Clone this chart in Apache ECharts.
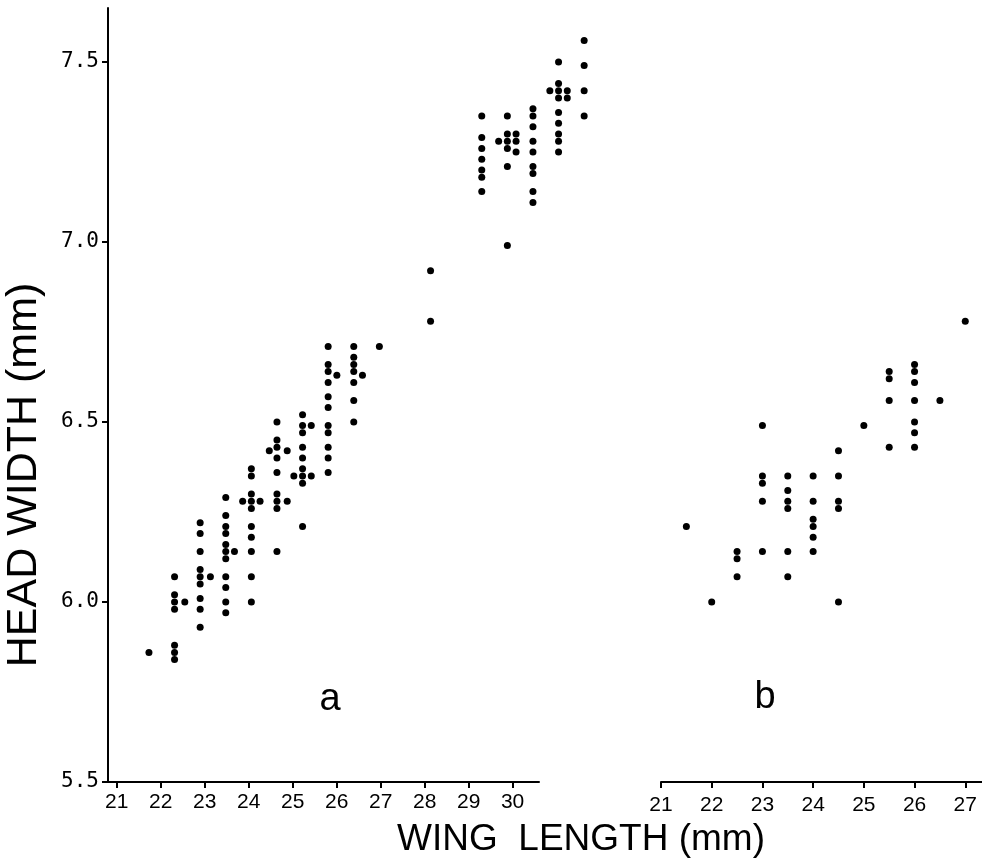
<!DOCTYPE html>
<html><head><meta charset="utf-8">
<script src="https://cdn.jsdelivr.net/npm/echarts@6/dist/echarts.min.js"></script>
<style>html,body{margin:0;padding:0;background:#fff}#c{width:982px;height:861px}</style>
</head><body><div id="c"></div>
<script>
// Tick labels
const yTicks = [5.5, 6.0, 6.5, 7.0, 7.5];
const xTicksA = [21, 22, 23, 24, 25, 26, 27, 28, 29, 30];
const xTicksB = [21, 22, 23, 24, 25, 26, 27];

// Panel a: wing length (mm) / head width (mm)
const aWing = [21.5,
  22,22,22,22,22,22,22,22.2,
  22.5,22.5,22.5,22.5,22.5,22.5,22.5,22.5,22.5,22.7,
  23,23,23,23,23,23,23,23,23,23,23,23.17,
  23.5,23.5,23.5,23.5,23.5,23.5,23.5,23.5,23.5,23.5,23.33,23.67,
  24,24,24,24,24,24,24,24,24,23.85,24.2,24.2,
  24.5,24.5,24.5,24.5,24.5,24.5,24.5,24.5,24.5,24.67,24.33,24.67,
  25,25,25,25,25,25,25,25,25,25,25,25.17,
  25.5,25.5,25.5,25.5,25.5,25.5,25.5,25.67,
  26,
  27,27,
  28,28,28,28,28,28,28,
  28.5,28.5,28.5,28.5,28.5,28.5,28.33,28.67,28.67,28.67,
  29,29,29,29,29,29,29,29,29,
  29.5,29.5,29.5,29.5,29.5,29.5,29.5,29.5,29.5,29.33,29.67,29.67,
  30,30,30,30];
const aHead = [5.86,
  6.07,6.02,6.00,5.98,5.88,5.86,5.84,6.00,
  6.22,6.19,6.14,6.09,6.07,6.05,6.01,5.98,5.93,6.07,
  6.29,6.24,6.21,6.19,6.16,6.14,6.12,6.07,6.04,6.00,5.97,6.14,
  6.37,6.35,6.30,6.28,6.26,6.21,6.18,6.14,6.07,6.00,6.28,6.28,
  6.50,6.45,6.43,6.40,6.36,6.30,6.28,6.26,6.14,6.42,6.42,6.28,
  6.52,6.49,6.47,6.43,6.40,6.37,6.35,6.33,6.21,6.49,6.35,6.35,
  6.71,6.66,6.64,6.61,6.57,6.54,6.49,6.47,6.43,6.40,6.36,6.63,
  6.71,6.68,6.66,6.64,6.61,6.56,6.50,6.63,
  6.71,
  6.92,6.78,
  7.35,7.29,7.26,7.23,7.20,7.18,7.14,
  7.35,7.30,7.28,7.26,7.21,6.99,7.28,7.30,7.28,7.25,
  7.37,7.35,7.32,7.28,7.25,7.21,7.19,7.14,7.11,
  7.50,7.44,7.42,7.40,7.36,7.33,7.30,7.28,7.25,7.42,7.42,7.40,
  7.56,7.49,7.42,7.35];

// Panel b
const bWing = [21.5, 22, 22.5,22.5,22.5, 23,23,23,23,23, 23.5,23.5,23.5,23.5,23.5,23.5,
  24,24,24,24,24,24, 24.5,24.5,24.5,24.5,24.5, 25, 25.5,25.5,25.5,25.5,
  26,26,26,26,26,26,26, 26.5, 27];
const bHead = [6.21, 6.00, 6.14,6.12,6.07, 6.49,6.35,6.33,6.28,6.14, 6.35,6.31,6.28,6.26,6.14,6.07,
  6.35,6.28,6.23,6.21,6.18,6.14, 6.42,6.35,6.28,6.26,6.00, 6.49, 6.64,6.62,6.56,6.43,
  6.66,6.64,6.61,6.56,6.50,6.47,6.43, 6.56, 6.78];

const pairs = (xs, ys) => xs.map((x, i) => [x, ys[i]]);

const black = '#000';
const tickFont = "'Liberation Sans', Arial, sans-serif";
const yRange = {min: 5.5, max: 7.65};

const chart = echarts.init(document.getElementById('c'), null, {renderer: 'canvas'});
chart.setOption({
  animation: false,
  backgroundColor: '#fff',
  grid: [
    {left: 108, top: 8, width: 431, height: 774},
    {left: 108, top: 8, width: 512, height: 774},
    {left: 661, top: 8, width: 321, height: 774}
  ],
  xAxis: [
    {gridIndex: 0, type: 'value', min: 20.8, max: 30.6,
     axisLine: {show: true, onZero: false, lineStyle: {color: black, width: 2}},
     axisTick: {show: true, customValues: xTicksA, length: 6, lineStyle: {color: black, width: 2}},
     axisLabel: {customValues: xTicksA, color: black, fontSize: 21, fontFamily: tickFont, margin: 10},
     splitLine: {show: false}},
    {gridIndex: 1, type: 'value', min: 20.7, max: 30.7, show: false},
    {gridIndex: 2, type: 'value', min: 21, max: 27.33,
     axisLine: {show: true, onZero: false, lineStyle: {color: black, width: 2}},
     axisTick: {show: true, customValues: xTicksB, length: 6, lineStyle: {color: black, width: 2}},
     axisLabel: {customValues: xTicksB, color: black, fontSize: 21, fontFamily: tickFont, margin: 13},
     splitLine: {show: false}}
  ],
  yAxis: [
    Object.assign({gridIndex: 0, type: 'value',
     axisLine: {show: true, onZero: false, lineStyle: {color: black, width: 2}},
     axisTick: {show: true, customValues: yTicks, length: 6, lineStyle: {color: black, width: 2}},
     axisLabel: {customValues: yTicks, color: black, fontSize: 21,
                 fontFamily: "'DejaVu Sans Mono', monospace", margin: 9,
                 formatter: v => v.toFixed(1)},
     splitLine: {show: false}}, yRange),
    Object.assign({gridIndex: 1, type: 'value', show: false}, yRange),
    Object.assign({gridIndex: 2, type: 'value', show: false}, yRange)
  ],
  series: [
    {type: 'scatter', xAxisIndex: 1, yAxisIndex: 1, data: pairs(aWing, aHead),
     symbol: 'circle', symbolSize: 7, itemStyle: {color: black, opacity: 1}},
    {type: 'scatter', xAxisIndex: 2, yAxisIndex: 2, data: pairs(bWing, bHead),
     symbol: 'circle', symbolSize: 7, itemStyle: {color: black, opacity: 1}}
  ],
  graphic: [
    {type: 'text', x: 330, y: 700, style: {text: 'a', font: "38px 'Liberation Sans', Arial, sans-serif",
      fill: '#000', align: 'center', verticalAlign: 'middle', textAlign: 'center', textVerticalAlign: 'middle'}},
    {type: 'text', x: 765, y: 698, style: {text: 'b', font: "38px 'Liberation Sans', Arial, sans-serif",
      fill: '#000', align: 'center', verticalAlign: 'middle', textAlign: 'center', textVerticalAlign: 'middle'}},
    {type: 'text', x: 581, y: 840, style: {text: 'WING  LENGTH (mm)', font: "37px 'Liberation Sans', Arial, sans-serif",
      fill: '#000', align: 'center', verticalAlign: 'middle', textAlign: 'center', textVerticalAlign: 'middle'}},
    {type: 'text', x: 24, y: 475, rotation: Math.PI / 2, style: {text: 'HEAD WIDTH (mm)', font: "43px 'Liberation Sans', Arial, sans-serif",
      fill: '#000', align: 'center', verticalAlign: 'middle', textAlign: 'center', textVerticalAlign: 'middle'}}
  ]
});
</script>
</body></html>
